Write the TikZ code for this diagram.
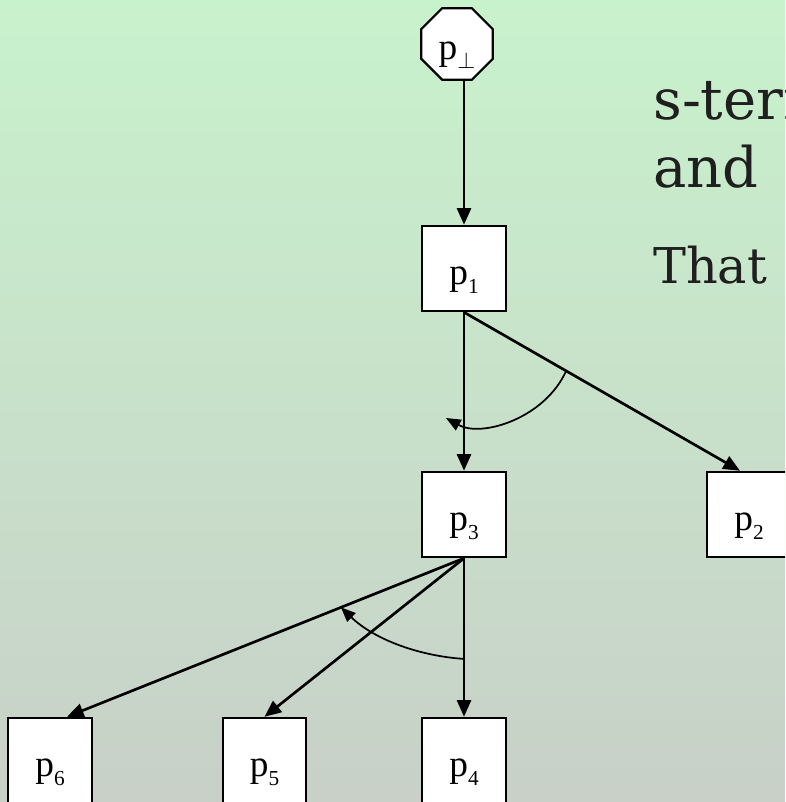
\documentclass[tikz,border=0pt]{standalone}
\usepackage{fontspec}
\setmainfont{Liberation Serif}
\newfontfamily\slidefont{DejaVu Serif}
\usetikzlibrary{shapes.geometric,arrows.meta}
\newcommand{\pname}[1]{p\raisebox{-6.5pt}{\fontsize{16pt}{16pt}\selectfont #1}}

\begin{document}
\begin{tikzpicture}[x=0.75pt,y=0.75pt,yscale=-1,xscale=1,
  pbox/.style={draw, line width=1.6pt, fill=white, inner sep=0pt, minimum width=62.5pt, minimum height=64pt, text height=28pt, text depth=4pt, font=\fontsize{28pt}{28pt}\selectfont},
  poct/.style={draw, line width=1.6pt, fill=white, inner sep=0pt, regular polygon, regular polygon sides=8, minimum size=58pt, text height=28pt, text depth=4pt, font=\fontsize{28pt}{28pt}\selectfont},
  edge/.style={line width=2pt, -{Triangle[length=12.5pt,width=10.5pt]}},
  turn/.style={line width=1.3pt, -{Triangle[length=11pt,width=9pt]}},
  slide/.style={anchor=base west, inner sep=0pt, text=black!88, font=\slidefont\fontsize{42pt}{42pt}\selectfont}]
\useasboundingbox (0,0) rectangle (785,802);
\clip (0,0) rectangle (785,802);

%Shape: Background
\shade [top color={rgb, 255:red, 200; green, 242; blue, 204 }, bottom color={rgb, 255:red, 200; green, 208; blue, 200 }] (0,0) rectangle (785,802);

%Shape: Octagon
\node [poct] (ptop) at (457,44) {\pname{$\bot$}};
%Shape: Square
\node [pbox] (p1) at (464,268.5) {\pname{1}};
%Shape: Square
\node [pbox] (p3) at (464,514.5) {\pname{3}};
%Shape: Square
\node [pbox] (p2) at (749,514.5) {\pname{2}};
%Shape: Square
\node [pbox] (p6) at (50,760.5) {\pname{6}};
%Shape: Square
\node [pbox] (p5) at (264.5,760.5) {\pname{5}};
%Shape: Square
\node [pbox] (p4) at (464,760.5) {\pname{4}};

%Straight Lines
\draw [edge] (ptop.south -| p1) -- (p1);
%Straight Lines
\draw [edge] (p1) -- (p3);
%Straight Lines
\draw [edge] (p1.south) -- coordinate[pos=0.37] (bendA) ([xshift=-6.75pt]p2.north);
%Straight Lines
\draw [edge] (p3.south) -- coordinate[pos=0.31] (bendB) ([xshift=12.75pt]p6.north);
%Straight Lines
\draw [edge] (p3.south) -- (p5.north);
%Straight Lines
\draw [edge] (p3) -- coordinate[pos=0.635] (bendC) (p4);

%Curve Lines
\coordinate (tipA) at (446,418);
\draw [turn] (bendA) .. controls (545,418) and (482,438) .. (tipA);
%Curve Lines
\draw [turn] (bendC) .. controls (420,656) and (375,640) .. (bendB);

% Text Node
\node [slide] (lineA) at (653,120) {s-term};
% Text Node
\node [slide] (lineB) at (653,188) {and};
% Text Node
\node [slide, font=\slidefont\fontsize{37pt}{37pt}\selectfont] (lineC) at (653,283) {That};

\end{tikzpicture}
\end{document}
